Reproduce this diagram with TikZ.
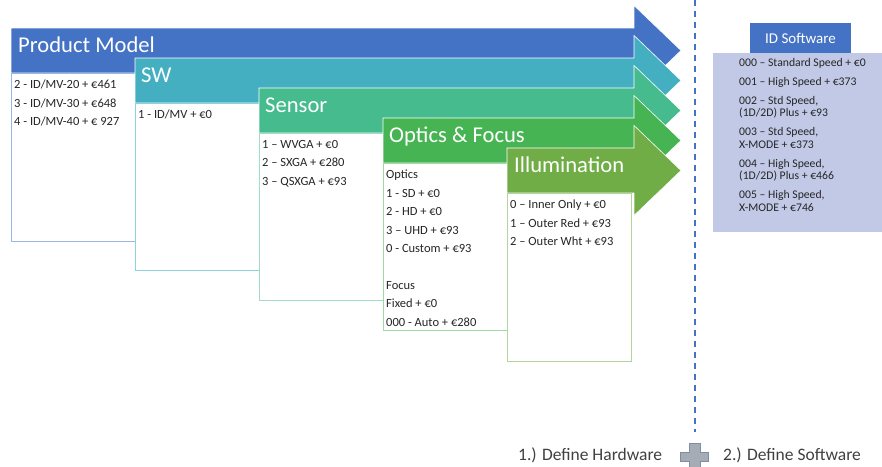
\documentclass[tikz,border=0pt]{standalone}
\usepackage{fontspec}
\setmainfont{Carlito}
\usetikzlibrary{positioning}

\definecolor{pmblue}{HTML}{4472C4}
\definecolor{swteal}{HTML}{45AFC2}
\definecolor{sensgreen}{HTML}{45BB8E}
\definecolor{optgreen}{HTML}{47B453}
\definecolor{illgreen}{HTML}{70AD47}
\definecolor{pmline}{HTML}{9DB5E3}
\definecolor{swline}{HTML}{8ED3DB}
\definecolor{sensline}{HTML}{A3DCC5}
\definecolor{optline}{HTML}{9FD9A6}
\definecolor{illline}{HTML}{B3D49C}
\definecolor{swpanel}{HTML}{C1C9E6}
\definecolor{plusgray}{HTML}{A7ACB4}
\definecolor{plusedge}{HTML}{7D8FA6}

\tikzset{
  band/.style={draw=white, line width=0.6pt},
  head/.style={anchor=base west, text=white, inner sep=0pt, font=\fontsize{22.6}{26}\selectfont},
  optbox/.style={fill=white, line width=0.9pt},
  opts/.style={anchor=north west, align=left, inner sep=0pt, text=black!85, font=\fontsize{12.5}{18.4}\selectfont},
  stepname/.style={anchor=base west, inner sep=0pt, text=black!75, font=\fontsize{17.5}{20}\selectfont}
}

\begin{document}
\begin{tikzpicture}[x=1pt,y=-1pt]
			
			\useasboundingbox (0,0) rectangle (882,466);
			
			% hardware steps
			\filldraw[band,fill=pmblue] (11,28) -- (634,28) -- (634,5.5) -- (681,50.5) -- (634,95.5) -- (634,73) -- (11,73) -- cycle;
			\node[head] (PM) at (18,52) {Product Model};
			\filldraw[optbox,draw=pmline] (11,73) rectangle (135,241);
			\node[opts] (PMopts) at (14,80) {2 - ID/MV-20 + €461\\3 - ID/MV-30 + €648\\4 - ID/MV-40 + € 927};
			
			\filldraw[band,fill=swteal] (135,58) -- (634,58) -- (634,35.5) -- (681,80.5) -- (634,125.5) -- (634,103) -- (135,103) -- cycle;
			\node[head] (SW) at (141,82) {SW};
			\filldraw[optbox,draw=swline] (135,103) rectangle (259,270);
			\node[opts] (SWopts) at (138,110) {1 - ID/MV + €0};
			
			\filldraw[band,fill=sensgreen] (259,88) -- (634,88) -- (634,65.5) -- (681,110.5) -- (634,155.5) -- (634,133) -- (259,133) -- cycle;
			\node[head] (Sens) at (265,112) {Sensor};
			\filldraw[optbox,draw=sensline] (259,133) rectangle (383,300);
			\node[opts] (Sensopts) at (262,140) {1 – WVGA + €0\\2 – SXGA + €280\\3 – QSXGA + €93};
			
			\filldraw[band,fill=optgreen] (383,118) -- (634,118) -- (634,95.5) -- (681,140.5) -- (634,185.5) -- (634,163) -- (383,163) -- cycle;
			\node[head] (Opt) at (389,142) {Optics \& Focus};
			\filldraw[optbox,draw=optline] (383,163) rectangle (507,330);
			\node[opts] (Optopts) at (386,170) {Optics\\1 - SD + €0\\2 - HD + €0\\3 – UHD + €93\\0 - Custom + €93\\[18.4pt]Focus\\Fixed + €0\\000 - Auto + €280};
			
			\filldraw[band,fill=illgreen] (507,148) -- (634,148) -- (634,125.5) -- (681,170.5) -- (634,215.5) -- (634,193) -- (507,193) -- cycle;
			\node[head] (Ill) at (514,172) {Illumination};
			\filldraw[optbox,draw=illline] (507,193) rectangle (631,361);
			\node[opts] (Illopts) at (510,200) {0 – Inner Only + €0\\1 – Outer Red + €93\\2 – Outer Wht + €93};
			
			% divider
			\coordinate (divtop) at (695,0);
			\coordinate (divbot) at (695,432);
			\draw[pmblue,line width=2.2pt,dash pattern=on 6pt off 5pt] (divtop) -- (divbot);
			
			% software
			\fill[swpanel] (713,53) rectangle (882,232);
			\node[fill=pmblue,text=white,minimum width=101pt,minimum height=30pt,inner sep=0pt,font=\fontsize{15}{18}\selectfont] (IDSW) at (800.5,38) {ID Software};
			\node[anchor=north west,align=left,inner sep=0pt,text=black!85,font=\fontsize{11.7}{12.5}\selectfont] (SWlist) at (739,58) {000 – Standard Speed + €0\\[6.5pt]001 – High Speed + €373\\[6.5pt]002 – Std Speed,\\(1D/2D) Plus + €93\\[6.5pt]003 – Std Speed,\\X-MODE + €373\\[6.5pt]004 – High Speed,\\(1D/2D) Plus + €466\\[6.5pt]005 – High Speed,\\X-MODE + €746};
			
			% bottom line
			\node[stepname] (HW) at (518,460) {1.) Define Hardware};
			\filldraw[fill=plusgray,draw=plusedge,line width=0.8pt] (689,443) -- (700,443) -- (700,452) -- (708,452) -- (708,461) -- (700,461) -- (700,470) -- (689,470) -- (689,461) -- (680,461) -- (680,452) -- (689,452) -- cycle;
			\node[stepname] (SWstep) at (723,460) {2.) Define Software};
			
		\end{tikzpicture}
\end{document}
